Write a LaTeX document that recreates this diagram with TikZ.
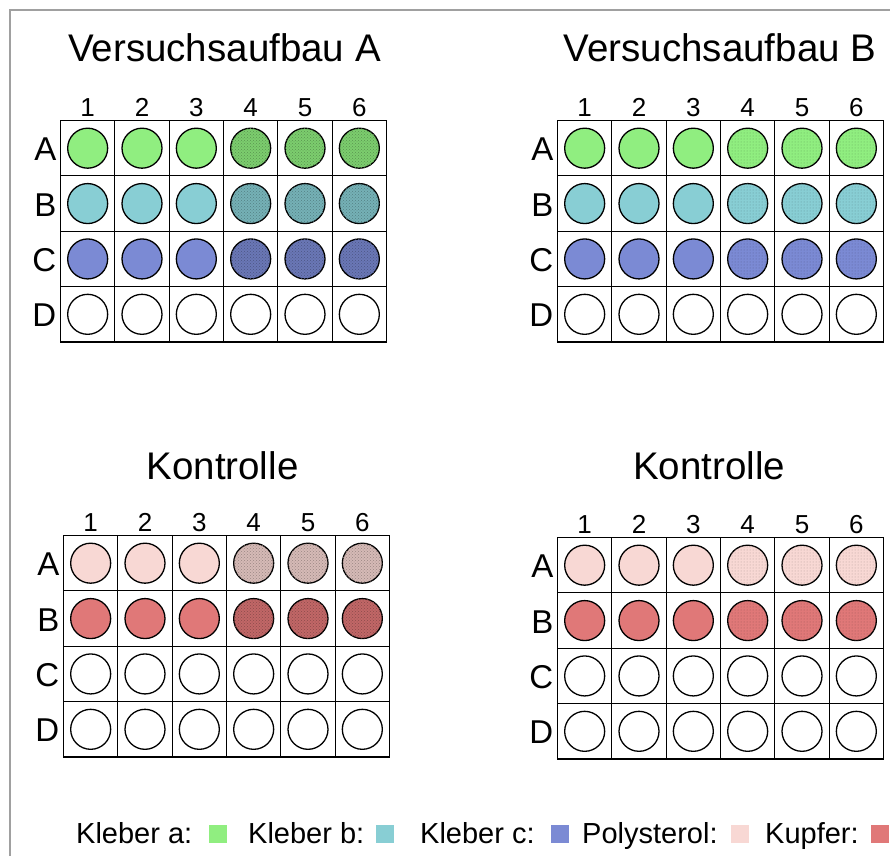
\documentclass[tikz,border=0pt]{standalone}
\usepackage{fontspec}
\setmainfont{Liberation Sans}
\usetikzlibrary{patterns}
\definecolor{cA}{RGB}{144,238,128}
\definecolor{cB}{RGB}{136,206,212}
\definecolor{cC}{RGB}{123,138,212}
\definecolor{cP}{RGB}{248,216,212}
\definecolor{cK}{RGB}{224,120,120}
\definecolor{cFrame}{RGB}{160,160,160}
\tikzset{
  well/.style={circle, draw=black, line width=1.3pt, minimum size=40pt, inner sep=0pt},
  gridln/.style={line width=1.2pt, draw=black},
  ttl/.style={font=\fontsize{38.5}{44}\selectfont, anchor=base, inner sep=0pt},
  colnum/.style={font=\fontsize{26}{30}\selectfont, anchor=base, inner sep=0pt},
  rowlab/.style={font=\fontsize{33}{38}\selectfont, anchor=base east, inner sep=0pt},
  legtext/.style={font=\fontsize{29}{34}\selectfont, anchor=base west, inner sep=0pt},
  legsq/.style={minimum size=18pt, inner sep=0pt, anchor=north west},
  darktex/.style={fill=#1!86!black, postaction={pattern=crosshatch dots, pattern color=#1!62!black}},
  lighttex/.style={fill=#1, postaction={pattern=dots, pattern color=#1!72!black}},
}
% #1 name, #2 left, #3 top
\newcommand{\plategrid}[3]{%
  \draw[gridln] (#2,#3) rectangle ++(326,221.5);
  \foreach \i in {1,...,5} {\draw[gridln] ({#2+\i*54.333},#3) -- ++(0,221.5);}
  \foreach \i in {1,2,3} {\draw[gridln] (#2,{#3+\i*55.375}) -- ++(326,0);}
  \foreach \i in {1,...,6} {\node[colnum] (#1-c\i) at ({#2+(\i-0.5)*54.333},{#3-4}) {\i};}
}
% #1 plate, #2 left, #3 top, #4 row idx, #5 letter, #6 fill cols 1-3, #7 style cols 4-6
\newcommand{\wellrow}[7]{%
  \node[rowlab] (#1-r#5) at ({#2-4},{#3+(#4+0.5)*55.375+12.5}) {#5};
  \foreach \c in {1,2,3} {\node[well, fill=#6] (#1-#5\c) at ({#2+(\c-0.5)*54.333},{#3+(#4+0.5)*55.375}) {};}
  \foreach \c in {4,5,6} {\node[well, #7] (#1-#5\c) at ({#2+(\c-0.5)*54.333},{#3+(#4+0.5)*55.375}) {};}
}
\begin{document}
\begin{tikzpicture}[x=1pt,y=-1pt]
\useasboundingbox (0,0) rectangle (890,856);
\fill[white] (0,0) rectangle (890,856);
\draw[cFrame, line width=1.5pt] (10,856) -- (10,10) -- (890,10);

% Plate 1
\node[ttl] (t1) at (224.5,62) {Versuchsaufbau A};
\plategrid{P1}{60.5}{120.5}
\wellrow{P1}{60.5}{120.5}{0}{A}{cA}{darktex=cA}
\wellrow{P1}{60.5}{120.5}{1}{B}{cB}{darktex=cB}
\wellrow{P1}{60.5}{120.5}{2}{C}{cC}{darktex=cC}
\wellrow{P1}{60.5}{120.5}{3}{D}{white}{fill=white}

% Plate 2
\node[ttl] (t2) at (720,62) {Versuchsaufbau B};
\plategrid{P2}{557.5}{120.5}
\wellrow{P2}{557.5}{120.5}{0}{A}{cA}{lighttex=cA}
\wellrow{P2}{557.5}{120.5}{1}{B}{cB}{lighttex=cB}
\wellrow{P2}{557.5}{120.5}{2}{C}{cC}{lighttex=cC}
\wellrow{P2}{557.5}{120.5}{3}{D}{white}{fill=white}

% Plate 3
\node[ttl] (t3) at (222.5,479) {Kontrolle};
\plategrid{P3}{63.5}{535.5}
\wellrow{P3}{63.5}{535.5}{0}{A}{cP}{darktex=cP}
\wellrow{P3}{63.5}{535.5}{1}{B}{cK}{darktex=cK}
\wellrow{P3}{63.5}{535.5}{2}{C}{white}{fill=white}
\wellrow{P3}{63.5}{535.5}{3}{D}{white}{fill=white}

% Plate 4
\node[ttl] (t4) at (709,479) {Kontrolle};
\plategrid{P4}{557.5}{537.5}
\wellrow{P4}{557.5}{537.5}{0}{A}{cP}{lighttex=cP}
\wellrow{P4}{557.5}{537.5}{1}{B}{cK}{lighttex=cK}
\wellrow{P4}{557.5}{537.5}{2}{C}{white}{fill=white}
\wellrow{P4}{557.5}{537.5}{3}{D}{white}{fill=white}

% Legend
\node[legtext] (l1) at (76,843) {Kleber a:};
\node[legsq, fill=cA] (s1) at (209,825) {};
\node[legtext] (l2) at (248,843) {Kleber b:};
\node[legsq, fill=cB] (s2) at (376,825) {};
\node[legtext] (l3) at (420,843) {Kleber c:};
\node[legsq, fill=cC] (s3) at (551,825) {};
\node[legtext] (l4) at (582,843) {Polysterol:};
\node[legsq, fill=cP] (s4) at (731,825) {};
\node[legtext] (l5) at (765,843) {Kupfer:};
\node[legsq, fill=cK] (s5) at (871,825) {};
\end{tikzpicture}
\end{document}
